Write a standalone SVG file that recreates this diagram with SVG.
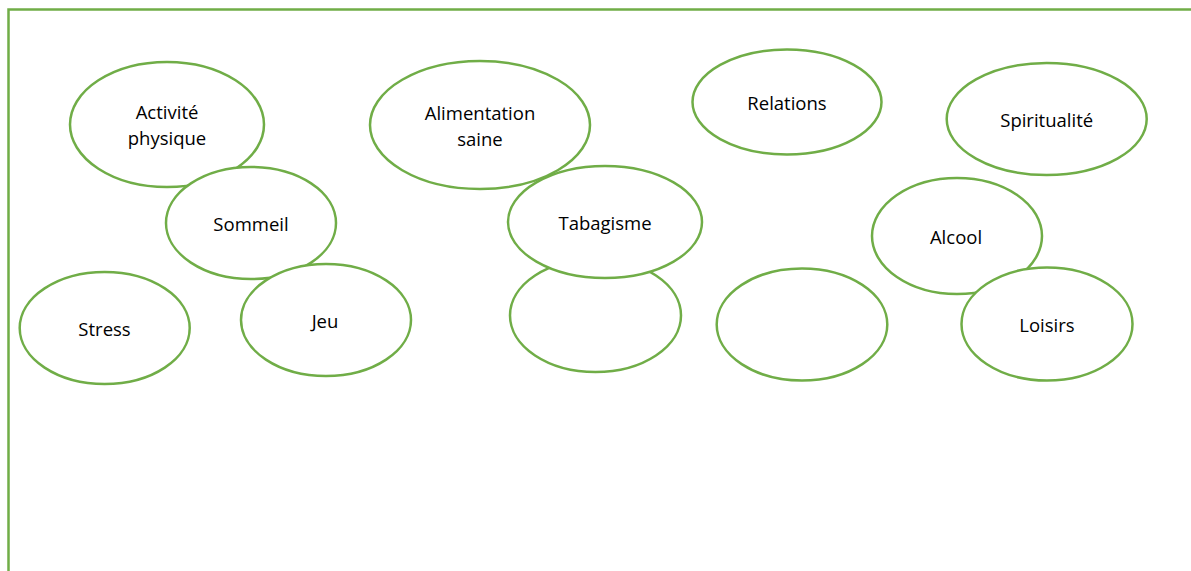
<svg xmlns="http://www.w3.org/2000/svg" width="1191" height="571" viewBox="0 0 1191 571">
  <style>
    .frame { fill: none; stroke: #70AD47; stroke-width: 2.5; }
    .node ellipse { fill: #FFFFFF; stroke: #70AD47; stroke-width: 2.5; }
    .node text { font-family: "Open Sans", "Liberation Sans", sans-serif; font-size: 18.5px; fill: #000000; text-anchor: middle; }
  </style>
  <rect width="1191" height="571" fill="#FFFFFF"/>
  <path class="frame" d="M8.5,571 L8.5,9.5 L1191,9.5"/>

  <g id="activite-physique" class="node">
    <ellipse cx="167" cy="124.5" rx="97" ry="62.5"/>
    <text x="167" y="119">Activité</text>
    <text x="167" y="145">physique</text>
  </g>
  <g id="sommeil" class="node">
    <ellipse cx="251" cy="223" rx="85" ry="56"/>
    <text x="251" y="231">Sommeil</text>
  </g>
  <g id="jeu" class="node">
    <ellipse cx="326" cy="320" rx="85" ry="56"/>
    <text x="325" y="328">Jeu</text>
  </g>
  <g id="stress" class="node">
    <ellipse cx="104.7" cy="328" rx="85" ry="56"/>
    <text x="104.5" y="336">Stress</text>
  </g>
  <g id="alimentation-saine" class="node">
    <ellipse cx="480" cy="125" rx="110" ry="64"/>
    <text x="480" y="119.5">Alimentation</text>
    <text x="480" y="146">saine</text>
  </g>
  <g id="vide-1" class="node">
    <ellipse cx="595.5" cy="315.5" rx="85.5" ry="56.5"/>
  </g>
  <g id="tabagisme" class="node">
    <ellipse cx="605" cy="222" rx="97" ry="56"/>
    <text x="605" y="230">Tabagisme</text>
  </g>
  <g id="relations" class="node">
    <ellipse cx="787" cy="102" rx="94.5" ry="52.5"/>
    <text x="787" y="110">Relations</text>
  </g>
  <g id="spiritualite" class="node">
    <ellipse cx="1046.7" cy="119" rx="100" ry="56"/>
    <text x="1046.7" y="126.5">Spiritualité</text>
  </g>
  <g id="vide-2" class="node">
    <ellipse cx="802" cy="324.5" rx="85.3" ry="56"/>
  </g>
  <g id="alcool" class="node">
    <ellipse cx="957" cy="236" rx="85" ry="58"/>
    <text x="956" y="244">Alcool</text>
  </g>
  <g id="loisirs" class="node">
    <ellipse cx="1047" cy="324" rx="85.5" ry="56.5"/>
    <text x="1047" y="332">Loisirs</text>
  </g>
  <g id="connectors"></g>
</svg>
